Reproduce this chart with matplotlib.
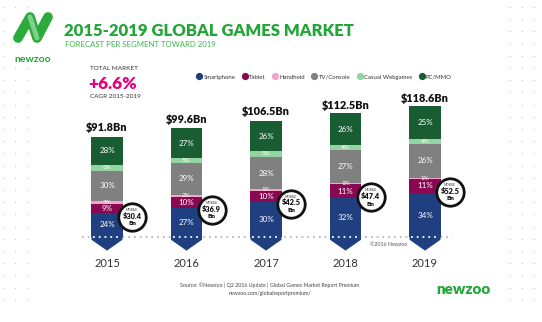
import matplotlib
matplotlib.use('Agg')
import matplotlib.pyplot as plt
from matplotlib.lines import Line2D
from matplotlib.patches import Polygon
import numpy as np

matplotlib.rcParams['font.family'] = ['Lato', 'DejaVu Sans']

# data
years = ['2015', '2016', '2017', '2018', '2019']
totals = [91.8, 99.6, 106.5, 112.5, 118.6]
mobile = [30.4, 36.9, 42.5, 47.4, 52.5]
segments = ['Smartphone', 'Tablet', 'Handheld', 'TV/Console', 'Casual Webgames', 'PC/MMO']
smartphone = [24, 27, 30, 32, 34]
tablet = [9, 10, 10, 11, 11]
handheld = [3, 2, 1, 1, 1]
tv_console = [30, 29, 28, 27, 26]
casual_web = [6, 5, 5, 4, 4]
pc_mmo = [28, 27, 26, 26, 25]
shares = [smartphone, tablet, handheld, tv_console, casual_web, pc_mmo]

colors = ['#1f3f80', '#8a0852', '#f5a3c8', '#808080', '#94d3a2', '#195e33']
green = '#22a638'

W, H = 542, 322
fig = plt.figure(figsize=(W / 100, H / 100), dpi=100)

def fx(x):
    return x / W

def fy(y):
    return 1 - y / H

# background layer in pixel coords
bg = fig.add_axes([0, 0, 1, 1], zorder=0)
bg.set_xlim(0, W)
bg.set_ylim(H, 0)
bg.axis('off')

dot_rows = np.arange(7, 305, 12.2)
for xc in [3, 15, 27]:
    bg.scatter(np.full(len(dot_rows), xc), dot_rows, s=1.2, color='#cfcfcf', lw=0)
for xc in [510, 522, 534]:
    bg.scatter(np.full(len(dot_rows), xc), dot_rows, s=1.2, color='#cfcfcf', lw=0)

# logo mark
bg.add_patch(Polygon([(10, 10), (56, 10), (56, 66), (10, 66)], closed=True, color='white', zorder=1))
bg.plot([18, 30, 37, 48], [38, 17, 38, 17], color='#2bab3c', lw=7,
        solid_capstyle='round', solid_joinstyle='round', zorder=2)
bg.plot([30, 37], [17, 38], color='#7fd08a', lw=3.5, solid_capstyle='round', zorder=3)
bg.text(33, 59, 'newzoo', color=green, fontsize=7.5, fontweight='bold',
        ha='center', va='center')

# titles
fig.text(fx(64), fy(31), '2015-2019 GLOBAL GAMES MARKET', color=green,
         fontsize=12, fontweight='heavy', ha='left', va='center')
fig.text(fx(65), fy(44.5), 'FORECAST PER SEGMENT TOWARD 2019', color='#3fb54f',
         fontsize=5.6, ha='left', va='center')

fig.text(fx(90), fy(69), 'TOTAL MARKET', color='#333333', fontsize=4.6, va='center')
fig.text(fx(88), fy(84), '+6.6%', color='#e6007e', fontsize=12.5, fontweight='heavy', va='center')
fig.text(fx(90), fy(96), 'CAGR 2015-2019', color='#333333', fontsize=4.6, va='center')

handles = [Line2D([], [], marker='o', ls='', markersize=4.2, markerfacecolor=c,
                  markeredgecolor=c) for c in colors]
fig.legend(handles, segments, loc='center', bbox_to_anchor=(fx(324), fy(77)),
           ncol=6, frameon=False, fontsize=4.3, handletextpad=0.2,
           columnspacing=1.1, handlelength=1.0, labelcolor='#333333')

fig.text(fx(370), fy(244), '©2016 Newzoo', color='#555555', fontsize=3.8, ha='left', va='center')
fig.text(fx(270), fy(285), 'Source: ©Newzoo | Q2 2016 Update | Global Games Market Report Premium',
         color='#444444', fontsize=3.8, ha='center', va='center')
fig.text(fx(270), fy(293), 'newzoo.com/globalreportpremium/',
         color='#444444', fontsize=3.8, ha='center', va='center')
fig.text(fx(463), fy(289), 'newzoo', color=green, fontsize=11, fontweight='heavy',
         ha='center', va='center')

# chart layer: x in bar slots, y in $Bn (1.09 px per Bn, baseline at y=237 px)
scale = 1.09
step = 79.5
x_lo, x_hi = -0.75, 4.75
y_lo, y_hi = -30, 130
left_px = 107 + x_lo * step
base_px = H - 237
ax = fig.add_axes([fx(left_px), (base_px + y_lo * scale) / H,
                   (x_hi - x_lo) * step / W, (y_hi - y_lo) * scale / H], zorder=2)
ax.set_xlim(x_lo, x_hi)
ax.set_ylim(y_lo, y_hi)
ax.axis('off')
ax.patch.set_alpha(0)

x = np.arange(len(years))
bw = 0.39
tot = np.array(totals)

# dotted baseline behind the bars
ax.plot([-0.31, 4.34], [0, 0], color='#b5b5b5', lw=1.3, ls=(0, (1, 2.2)), zorder=1)

bottom = np.zeros(len(years))
for share, c, name in zip(shares, colors, segments):
    h = tot * np.array(share) / 100
    ax.bar(x, h, bw, bottom=bottom, color=c, zorder=2, linewidth=0)
    small = name in ('Handheld', 'Casual Webgames')
    for xi, b, hh, s in zip(x, bottom, h, share):
        ax.text(xi, b + hh / 2, f'{s}%', color='white', ha='center', va='center',
                fontsize=4.6 if (small or s < 5) else 5.8, zorder=4)
    bottom = bottom + h

# chevron below baseline
for xi in x:
    ax.add_patch(Polygon([(xi - bw / 2, 0), (xi + bw / 2, 0), (xi + bw / 2, -2.5),
                          (xi, -12.5), (xi - bw / 2, -2.5)], closed=True,
                         color=colors[0], lw=0, zorder=2))
    ax.plot([xi - bw / 2 + 0.02, xi + bw / 2 - 0.02], [0, 0], color='white', lw=1.3,
            ls=(0, (1, 2.2)), zorder=3)

for xi, t in zip(x, totals):
    ax.text(xi, t + 3.2, f'${t}Bn', ha='center', va='bottom', fontsize=7.8,
            fontweight='heavy', color='#111111', zorder=4)

for xi, y in zip(x, years):
    ax.text(xi, -24, y, ha='center', va='center', fontsize=8, color='#333333')

# mobile bubbles
mob_top = tot * (np.array(smartphone) + np.array(tablet)) / 100
cx = x + 0.315
cy = mob_top - 12
ax.scatter(cx, cy, s=390, facecolor='white', edgecolor='#111111', linewidth=2, zorder=5)
for xi, yi, m in zip(cx, cy, mobile):
    ax.text(xi, yi + 6.5, 'MOBILE', fontsize=2.4, ha='center', va='center', color='#333333', zorder=6)
    ax.text(xi, yi + 0.8, f'${m}', fontsize=5.3, fontweight='heavy', ha='center', va='center',
            color='#111111', zorder=6)
    ax.text(xi, yi - 6.2, 'Bn', fontsize=4.5, fontweight='heavy', ha='center', va='center',
            color='#111111', zorder=6)

fig.savefig('out.png', dpi=100)
